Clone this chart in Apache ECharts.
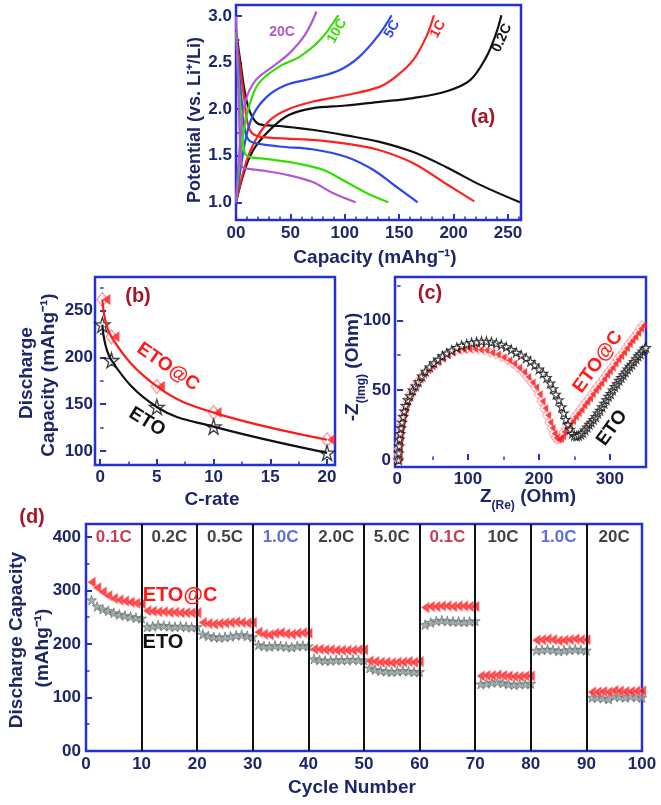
<!DOCTYPE html>
<html>
<head>
<meta charset="utf-8">
<title>ETO / ETO@C electrochemistry</title>
<script src="https://cdn.jsdelivr.net/npm/echarts@6/dist/echarts.min.js"></script>
</head>
<body style="margin:0;background:#fff">
<div id="main" style="width:661px;height:805px;"></div>
<script>
// ---- (a) charge / discharge profiles, [capacity mAh/g, potential V]
var rateNames = ['0.2C', '1C', '5C', '10C', '20C'];
var rateColors = ['#111111', '#ff2020', '#2b47f0', '#33dd00', '#b058d0'];
var dischargeCurves = [
  [[0,2.85],[4.6,2.46],[9,2.13],[14,1.94],[21,1.84],[40,1.82],[70,1.78],[101,1.72],[132,1.65],[163,1.54],[193,1.38],[224,1.19],[261,1.0]],
  [[0,2.8],[7.7,2.1],[10.7,1.85],[15,1.74],[25,1.70],[70,1.67],[101,1.63],[132,1.56],[163,1.42],[193,1.20],[219,1.01]],
  [[0,2.83],[6,1.99],[9,1.74],[14,1.65],[40,1.6],[70,1.57],[101,1.49],[126,1.35],[147,1.17],[167,1.0]],
  [[0,2.83],[4.6,1.92],[7.7,1.54],[12,1.49],[25,1.47],[55,1.42],[80,1.35],[101,1.22],[120,1.10],[140,1.0]],
  [[0,3.0],[2.5,2.1],[4,1.56],[6,1.38],[12,1.36],[25,1.34],[49,1.29],[70,1.22],[89,1.10],[110,1.0]]
];
var chargeCurves = [
  [[0,1.0],[9,1.38],[18,1.6],[34,1.81],[49,1.94],[70,2.01],[101,2.04],[132,2.08],[163,2.12],[193,2.19],[215,2.31],[230,2.56],[239,2.81],[244,3.01]],
  [[0,1.0],[9,1.42],[18,1.67],[31,1.88],[46,1.99],[70,2.08],[101,2.15],[132,2.24],[147,2.35],[163,2.53],[175,2.78],[182,3.01]],
  [[0,1.0],[8,1.63],[15,1.92],[28,2.13],[46,2.26],[70,2.33],[95,2.42],[113,2.56],[132,2.81],[143,3.01]],
  [[0,1.0],[6,1.67],[12,2.03],[21,2.28],[40,2.46],[58,2.56],[77,2.74],[94,3.01]],
  [[0,1.0],[5,1.81],[9,2.10],[18,2.31],[34,2.46],[49,2.60],[64,2.81],[74,3.05]]
];

// ---- (b) rate capability
var cRate = [0.2, 1, 5, 10, 20];
var capEtoC = [262, 222, 169, 141, 112];
var capEto = [235, 197, 147, 126, 98];

// ---- (c) Nyquist plots, [Z(Re), -Z(Img)]
var nyqEtoC = [[3,0],[3.5,4],[4,8],[4.5,12],[5,16],[6,20],[7,24],[8,28],[10,32],[12,36],[14,40],[17,44],[20,47],[24,51],[28,54],[33,57.5],[38,61],[44,64],[50,67],[57,70],[64,72.5],[71,75],[78,77],[86,78.5],[94,79],[102,79.5],[110,79.5],[118,79],[126,78.5],[134,77],[142,75.5],[150,73.5],[158,71.5],[165,69],[172,66],[179,63],[185,59.5],[191,55.5],[196,52],[201,47],[205,42],[209,37],[213,32],[216,27],[219,23],[222,19],[225,16],[228,14.5],[231,15],[234,17],[236,20],[240,22.5],[244,25],[248,28],[252,31],[256,33.5],[260,36],[264,39],[268,41.5],[272,44],[276,47],[280,50],[284,52.5],[288,55],[292,58],[296,61],[300,63.5],[304,66],[308,69],[312,72],[316,74.5],[320,77],[324,80],[328,83],[332,85.5],[336,88],[340,91],[344,94],[348,96.5],[352,99]];
var nyqEto = [[2,0],[2.5,5],[3,10],[3.5,15],[4.5,19],[5.5,23],[7,27],[8.5,31],[10,35],[12,39],[15,43],[18,46],[22,50],[26,53],[30,56],[35,60],[40,63.5],[46,66.5],[52,69.5],[58,72],[64,74.5],[70,76.5],[77,78.5],[84,80.5],[91,82],[98,83],[105,84],[112,84.5],[119,85],[126,85],[133,84.5],[140,83.5],[147,82.5],[154,81],[161,79],[168,77],[175,75],[182,73],[188,70.5],[194,68],[200,65],[206,62],[211,59],[216,55],[220,51],[224,47],[228,43],[232,38],[235,33.5],[238,29],[241,25.5],[244,22],[247,19],[250,17.5],[253,17],[256,17.5],[259,18.5],[262,19.5],[265,21.5],[268,23.5],[271,25.5],[274,27],[277,29],[280,31],[283,33.5],[286,35.5],[289,38],[292,40.5],[295,43],[298,45.5],[301,47.5],[304,50],[307,52.5],[310,54.5],[313,57],[316,59],[319,61],[322,63],[325,65],[328,67],[331,68.5],[334,70.5],[337,72.5],[340,74.5],[343,76],[346,78],[349,79.5],[351,80.5]];

// ---- (d) cycling at different rates
var stepRates = ['0.1C', '0.2C', '0.5C', '1.0C', '2.0C', '5.0C', '0.1C', '10C', '1.0C', '20C'];
var stepColors = ['#b3102a', '#111', '#111', '#3548d8', '#111', '#111', '#b3102a', '#111', '#3548d8', '#111'];
var cycEtoC = [
  315,305,297,290,285,282,280,278,276,275,
  262,261,260,260,259,259,258,258,258,258,
  240,238,237,238,239,240,241,240,239,240,
  222,218,217,220,221,219,218,220,221,220,
  190,190,189,189,188,188,188,188,189,189,
  168,167,166,166,165,166,166,167,166,167,
  268,270,270,271,271,270,271,271,270,270,
  140,141,141,142,141,140,139,139,140,140,
  207,208,209,208,206,207,208,209,208,208,
  110,110,111,110,113,112,111,111,112,112
];
var cycEto = [
  282,270,265,262,258,255,253,251,249,248,
  232,233,235,234,233,232,233,232,231,232,
  218,215,213,212,213,214,216,217,215,213,
  198,196,195,197,196,195,194,196,197,196,
  172,170,169,169,170,170,170,171,170,170,
  155,152,150,149,148,149,150,149,148,148,
  236,240,243,244,243,242,242,241,242,243,
  125,126,128,129,127,125,124,125,125,126,
  188,189,190,189,187,188,189,190,189,188,
  100,100,99,97,102,101,100,102,101,100
];
var stepEdges = [10, 20, 30, 40, 50, 60, 70, 80, 90];

var main = document.getElementById('main');
var myChart = echarts.init(main);

var FONT = "'Liberation Sans', Arial, sans-serif";
var NAVY = '#1c2668';
var BOXBLUE = '#2430d0';
var DARKRED = '#a3172a';
var TRI = 'path://M0,5L10,0L10,10Z';
var STAR = 'path://M50,0L61,35L98,35L68,57L79,91L50,70L21,91L32,57L2,35L39,35Z';

function range(a, b, step) {
  var out = [];
  for (var v = a; v <= b + 1e-9; v += step) out.push(+v.toFixed(4));
  return out;
}

var xAxes = [], yAxes = [], xMinor = [], yMinor = [];
function addAxis(list, minorList, g, pos, min, max, majors, minors, fmt, margin) {
  list.push({
    type: 'value', gridIndex: g, position: pos, min: min, max: max,
    axisLine: { show: false }, splitLine: { show: false },
    axisTick: { inside: true, length: 6, customValues: majors, lineStyle: { color: BOXBLUE, width: 2 } },
    axisLabel: { customValues: majors, formatter: fmt, margin: margin,
      color: NAVY, fontWeight: 'bold', fontSize: 17, fontFamily: FONT }
  });
  minorList.push({
    type: 'value', gridIndex: g, position: pos, min: min, max: max,
    axisLine: { show: false }, splitLine: { show: false }, axisLabel: { show: false },
    axisTick: { inside: true, length: 3.5, customValues: minors, lineStyle: { color: BOXBLUE, width: 1.5 } }
  });
}
function zeroAsDouble(v) { return v === 0 ? '00' : String(v); }
function oneDec(v) { return v.toFixed(1); }

// grids: a, b, c, d
var grids = [
  { left: 236, top: 5, width: 285, height: 215 },
  { left: 95, top: 277, width: 240, height: 188 },
  { left: 395, top: 277, width: 251, height: 190 },
  { left: 86, top: 524, width: 556, height: 227 }
].map(function (g) {
  return Object.assign({ show: true, borderColor: BOXBLUE, borderWidth: 2.5, backgroundColor: 'transparent' }, g);
});

addAxis(xAxes, xMinor, 0, 'bottom', 0, 262, range(0, 250, 50), range(0, 260, 10), zeroAsDouble, 5);
addAxis(xAxes, xMinor, 1, 'bottom', -0.45, 20.7, range(0, 20, 5), range(0, 20, 2.5), null, 4);
addAxis(xAxes, xMinor, 2, 'bottom', -3, 351, range(0, 300, 100), range(0, 350, 50), null, 4);
addAxis(xAxes, xMinor, 3, 'bottom', 0, 100, range(0, 100, 10), range(0, 100, 10), null, 5);
addAxis(yAxes, yMinor, 0, 'left', 0.81, 3.12, range(1, 3, 0.5), range(1, 3, 0.25), oneDec, 4);
addAxis(yAxes, yMinor, 1, 'left', 85, 286, range(100, 250, 50), range(100, 275, 25), null, 2);
addAxis(yAxes, yMinor, 2, 'left', -5, 131, range(0, 100, 50), range(0, 125, 25), null, 4);
addAxis(yAxes, yMinor, 3, 'left', 0, 424, range(0, 400, 100), range(0, 400, 50), zeroAsDouble, 5);

var series = [];
// (a)
rateNames.forEach(function (r, i) {
  [dischargeCurves[i], chargeCurves[i]].forEach(function (curve) {
    series.push({ type: 'line', xAxisIndex: 0, yAxisIndex: 0, data: curve, smooth: 0.35,
      showSymbol: false, lineStyle: { color: rateColors[i], width: 2.2 }, silent: true });
  });
});
// (b)
function zip(xs, ys) { return xs.map(function (x, i) { return [x, ys[i]]; }); }
series.push(
  { type: 'line', xAxisIndex: 1, yAxisIndex: 1, data: zip(cRate, capEtoC), smooth: 0.4, showSymbol: false,
    lineStyle: { color: '#ff1a1a', width: 2.2 } },
  { type: 'line', xAxisIndex: 1, yAxisIndex: 1, data: zip(cRate, capEto), smooth: 0.4, showSymbol: false,
    lineStyle: { color: '#111', width: 2.2 } },
  { type: 'scatter', xAxisIndex: 1, yAxisIndex: 1, data: zip(cRate, capEtoC), symbol: 'diamond', symbolSize: [11, 14],
    itemStyle: { color: '#fff', borderColor: '#ff7d8c', borderWidth: 1.3 } },
  { type: 'scatter', xAxisIndex: 1, yAxisIndex: 1, data: zip(cRate, capEtoC), symbol: TRI, symbolSize: [8, 11],
    symbolOffset: [4, 0], itemStyle: { color: '#ff1a1a' } },
  { type: 'scatter', xAxisIndex: 1, yAxisIndex: 1, data: zip(cRate, capEto), symbol: STAR, symbolSize: 15,
    itemStyle: { color: '#e8e8e8', borderColor: '#111', borderWidth: 1.3 } }
);
// (c)
series.push(
  { type: 'scatter', xAxisIndex: 2, yAxisIndex: 2, data: nyqEtoC, symbol: 'diamond', symbolSize: [7, 9],
    symbolOffset: [-2, 0], itemStyle: { color: '#fff', borderColor: '#ff8c9a', borderWidth: 1 } },
  { type: 'scatter', xAxisIndex: 2, yAxisIndex: 2, data: nyqEtoC, symbol: TRI, symbolSize: [6, 8],
    itemStyle: { color: '#ff1a1a' } },
  { type: 'scatter', xAxisIndex: 2, yAxisIndex: 2, data: nyqEto, symbol: STAR, symbolSize: 9,
    itemStyle: { color: '#fff', borderColor: '#111', borderWidth: 1.1 } }
);
// (d)
var cycleNo = cycEtoC.map(function (v, i) { return i + 1; });
series.push(
  { type: 'line', xAxisIndex: 3, yAxisIndex: 3, data: [], silent: true,
    markLine: { symbol: 'none', silent: true, label: { show: false },
      lineStyle: { color: '#111', width: 2, type: 'solid' },
      data: stepEdges.map(function (e) { return { xAxis: e }; }) } },
  { type: 'scatter', xAxisIndex: 3, yAxisIndex: 3, data: zip(cycleNo, cycEto), symbol: STAR, symbolSize: 10,
    itemStyle: { color: '#8d9b9b', borderColor: '#5f6b6b', borderWidth: 0.8 } },
  { type: 'scatter', xAxisIndex: 3, yAxisIndex: 3, data: zip(cycleNo, cycEtoC), symbol: TRI, symbolSize: [8, 11],
    itemStyle: { color: '#ff1a1a', borderColor: '#ffb0b8', borderWidth: 0.6 } },
  { type: 'scatter', xAxisIndex: 3, yAxisIndex: 3, symbolSize: 0, silent: true,
    data: stepRates.map(function (r, i) {
      return { value: [i * 10 + 5, 400],
        label: { show: true, position: 'inside', formatter: r, color: stepColors[i],
          fontSize: 17, fontWeight: 'bold', fontFamily: FONT } };
    }) }
);

function txt(text, x, y, opts) {
  opts = opts || {};
  return {
    type: 'text', x: x, y: y, rotation: opts.rot || 0, silent: true, z: 100,
    style: { text: text, x: 0, y: 0, align: 'center', verticalAlign: 'middle',
      fill: opts.color || NAVY, rich: opts.rich,
      font: 'bold ' + (opts.size || 19) + 'px ' + FONT }
  };
}
var R90 = Math.PI / 2;
var subRich = {
  b: { fontSize: 19, fontWeight: 'bold', fontFamily: FONT, fill: NAVY, color: NAVY, lineHeight: 24 },
  s: { fontSize: 12, fontWeight: 'bold', fontFamily: FONT, fill: NAVY, color: NAVY, lineHeight: 12,
       verticalAlign: 'bottom', padding: [0, 0, -3, 0] }
};

var graphic = [
  // (a)
  txt('Potential (vs. Li\u207A/Li)', 195, 120, { rot: R90, size: 18 }),
  txt('Capacity (mAhg\u207B\u00B9)', 375, 258),
  txt('20C', 282, 32, { color: rateColors[4], size: 14 }),
  txt('10C', 337, 31, { color: rateColors[3], size: 14, rot: 1.05 }),
  txt('5C', 392, 29, { color: rateColors[2], size: 14, rot: 1.05 }),
  txt('1C', 438, 29, { color: rateColors[1], size: 14, rot: 1.05 }),
  txt('0.2C', 502, 38, { color: rateColors[0], size: 14, rot: 1.15 }),
  txt('(a)', 483, 117, { color: DARKRED, size: 20 }),
  // (b)
  txt('Discharge', 27, 373, { rot: R90 }),
  txt('Capacity (mAhg\u207B\u00B9)', 49, 375, { rot: R90 }),
  txt('C-rate', 212, 500),
  txt('(b)', 138, 296, { color: DARKRED, size: 20 }),
  txt('ETO@C', 168, 367, { color: '#ff1a1a', size: 19, rot: -0.6 }),
  txt('ETO', 147, 422, { color: '#111', size: 19, rot: -0.55 }),
  // (c)
  txt('{b|-Z}{s|(Img)}{b| (Ohm)}', 353, 367, { rot: R90, rich: subRich }),
  txt('{b|Z}{s|(Re)}{b| (Ohm)}', 528, 497, { rich: subRich }),
  txt('(c)', 430, 293, { color: DARKRED, size: 20 }),
  txt('ETO@C', 598, 362, { color: '#ff1a1a', size: 19, rot: 0.95 }),
  txt('ETO', 612, 428, { color: '#111', size: 19, rot: 0.95 }),
  // (d)
  txt('Discharge Capacity', 17, 640, { rot: R90 }),
  txt('(mAhg\u207B\u00B9)', 43, 648, { rot: R90 }),
  txt('Cycle Number', 352, 788),
  txt('(d)', 32, 517, { color: DARKRED, size: 20 }),
  txt('ETO@C', 180, 595, { color: '#ff1a1a', size: 20 }),
  txt('ETO', 163, 642, { color: '#111', size: 20 })
];

var option = {
  animation: false,
  backgroundColor: '#fff',
  grid: grids,
  xAxis: xAxes.concat(xMinor),
  yAxis: yAxes.concat(yMinor),
  series: series,
  graphic: graphic
};
myChart.setOption(option);
</script>
</body>
</html>
